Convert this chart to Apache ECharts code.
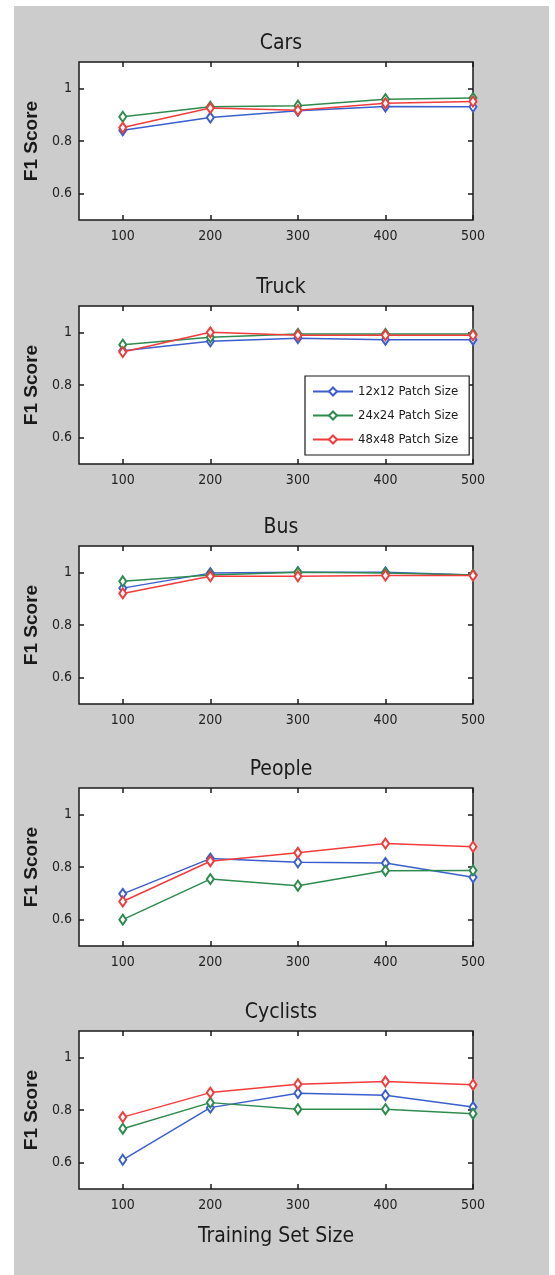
<!DOCTYPE html>
<html>
<head>
<meta charset="utf-8">
<script src="https://cdn.jsdelivr.net/npm/echarts@6/dist/echarts.min.js"></script>
<style>
  html, body { margin: 0; padding: 0; background: #ffffff; }
  #bg { position: absolute; left: 14px; top: 6px; width: 535px; height: 1269px; background: #cccccc; }
  #chart { position: absolute; left: 0; top: 0; width: 555px; height: 1275px; }
</style>
</head>
<body>
<div id="bg"></div>
<div id="chart"></div>
<script>
// ---- data ----
const panelTitles = ['Cars', 'Truck', 'Bus', 'People', 'Cyclists'];
const seriesNames = ['12x12 Patch Size', '24x24 Patch Size', '48x48 Patch Size'];
const trainingSizes = [100, 200, 300, 400, 500];
const xTickValues = [100, 200, 300, 400, 500];
const yTickValues = [0.6, 0.8, 1];

// rows: 12x12, 24x24, 48x48
const carsF1 = [
  [0.841, 0.889, 0.915, 0.931, 0.930],
  [0.892, 0.930, 0.934, 0.959, 0.963],
  [0.851, 0.925, 0.917, 0.943, 0.950]
];
const truckF1 = [
  [0.930, 0.966, 0.978, 0.972, 0.972],
  [0.953, 0.981, 0.994, 0.994, 0.994],
  [0.925, 1.000, 0.989, 0.989, 0.989]
];
const busF1 = [
  [0.940, 0.997, 1.000, 1.000, 0.990],
  [0.966, 0.990, 1.000, 0.997, 0.990],
  [0.920, 0.985, 0.985, 0.988, 0.988]
];
const peopleF1 = [
  [0.698, 0.832, 0.818, 0.815, 0.761],
  [0.600, 0.754, 0.729, 0.786, 0.787],
  [0.669, 0.822, 0.854, 0.889, 0.877]
];
const cyclistsF1 = [
  [0.611, 0.809, 0.864, 0.856, 0.811],
  [0.729, 0.828, 0.803, 0.803, 0.786],
  [0.773, 0.866, 0.898, 0.908, 0.896]
];
const panelData = [carsF1, truckF1, busF1, peopleF1, cyclistsF1];

// ---- styling / layout ----
const colors = ['#3a5fcd', '#2e8b4e', '#f23b3b'];
const narrow = '"Liberation Sans Narrow", "Arial Narrow", "DejaVu Sans Condensed", sans-serif';
const regular = '"Liberation Sans", Arial, sans-serif';
const gridLeft = 79, gridWidth = 394, gridHeight = 158;
const gridTops = [62, 306, 546, 788, 1031];
const dark = '#1a1a1a';

const grids = [], xAxes = [], yAxes = [], titles = [], series = [];

gridTops.forEach((top, i) => {
  grids.push({
    left: gridLeft, top: top, width: gridWidth, height: gridHeight,
    show: true, backgroundColor: '#ffffff', borderColor: dark, borderWidth: 1.5
  });
  titles.push({
    text: panelTitles[i],
    left: gridLeft + gridWidth / 2, top: top - 34, textAlign: 'center',
    textStyle: { fontFamily: narrow, fontSize: 21, fontWeight: 'normal', color: '#1a1a1a' }
  });
  const tickStyle = { show: true, inside: true, length: 5, lineStyle: { color: dark, width: 1.5 } };
  // bottom x axis
  xAxes.push({
    type: 'value', gridIndex: i, min: 50, max: 500, position: 'bottom',
    axisLine: { show: false }, splitLine: { show: false },
    axisTick: Object.assign({ customValues: xTickValues }, tickStyle),
    axisLabel: { customValues: xTickValues, margin: 9, fontFamily: narrow, fontSize: 14, color: '#222' },
    name: i === 4 ? 'Training Set Size' : '',
    nameLocation: 'middle', nameGap: 37,
    nameTextStyle: { fontFamily: narrow, fontSize: 21, color: '#1a1a1a' }
  });
  // top x axis (ticks only)
  xAxes.push({
    type: 'value', gridIndex: i, min: 50, max: 500, position: 'top',
    axisLine: { show: false }, splitLine: { show: false },
    axisTick: Object.assign({ customValues: xTickValues }, tickStyle),
    axisLabel: { show: false }
  });
  // left y axis
  yAxes.push({
    type: 'value', gridIndex: i, min: 0.5, max: 1.1, position: 'left',
    axisLine: { show: false }, splitLine: { show: false },
    axisTick: Object.assign({ customValues: yTickValues }, tickStyle),
    axisLabel: { customValues: yTickValues, margin: 7, fontFamily: narrow, fontSize: 14, color: '#222',
                 formatter: v => String(Math.round(v * 10) / 10) },
    name: 'F1 Score', nameLocation: 'middle', nameGap: 24,
    nameTextStyle: { fontFamily: regular, fontSize: 19, fontWeight: 'bold', color: '#1a1a1a' }
  });
  // right y axis (ticks only)
  yAxes.push({
    type: 'value', gridIndex: i, min: 0.5, max: 1.1, position: 'right',
    axisLine: { show: false }, splitLine: { show: false },
    axisTick: Object.assign({ customValues: yTickValues }, tickStyle),
    axisLabel: { show: false }
  });
  panelData[i].forEach((vals, s) => {
    series.push({
      type: 'line', name: seriesNames[s],
      xAxisIndex: 2 * i, yAxisIndex: 2 * i,
      data: trainingSizes.map((x, k) => [x, vals[k]]),
      symbol: 'emptyDiamond', symbolSize: [7, 10],
      color: colors[s],
      lineStyle: { width: 1.5, color: colors[s] },
      itemStyle: { color: colors[s], borderColor: colors[s], borderWidth: 1 },
      emphasis: { disabled: true },
      z: 2 + s
    });
  });
});

const chart = echarts.init(document.getElementById('chart'), null, { renderer: 'canvas' });
chart.setOption({
  animation: false,
  backgroundColor: 'transparent',
  title: titles,
  grid: grids,
  xAxis: xAxes,
  yAxis: yAxes,
  legend: {
    data: seriesNames,
    orient: 'vertical',
    left: 305, top: 376,
    padding: [9, 11, 9, 7],
    itemGap: 11,
    itemWidth: 40, itemHeight: 10,
    backgroundColor: '#ffffff',
    borderColor: dark, borderWidth: 1.2, borderRadius: 0,
    textStyle: { fontFamily: narrow, fontSize: 13, color: '#1a1a1a' },
    selectedMode: false
  },
  series: series
});
</script>
</body>
</html>
